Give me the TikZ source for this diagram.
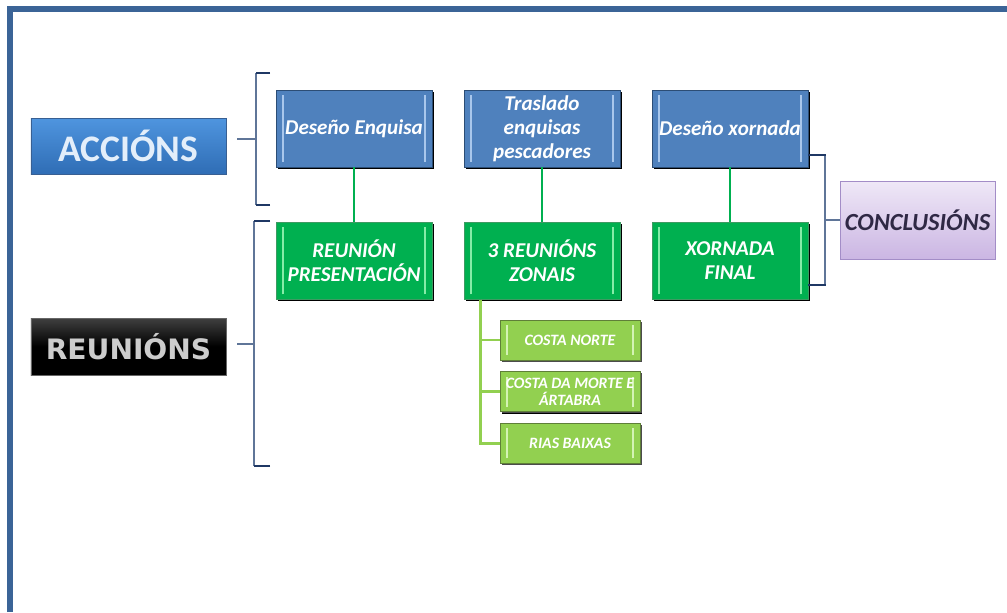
\documentclass[tikz,border=0pt]{standalone}
\usepackage{fontspec}
\setmainfont{Carlito}
\newfontfamily\reufont{DejaVu Sans}
\usetikzlibrary{positioning,shadows}

\definecolor{framebl}{HTML}{3B6497}
\definecolor{actfill}{HTML}{4F81BD}
\definecolor{actline}{HTML}{2C4D75}
\definecolor{actbevel}{HTML}{A9C7EC}
\definecolor{reufill}{HTML}{00B050}
\definecolor{reuline}{HTML}{3E9A62}
\definecolor{reubevel}{HTML}{86ECA8}
\definecolor{subfill}{HTML}{92D050}
\definecolor{subline}{HTML}{5F7F38}
\definecolor{subbevel}{HTML}{D4F3B4}
\definecolor{brknavy}{HTML}{1F3864}
\definecolor{brkgray}{HTML}{5F7598}
\definecolor{conctop}{HTML}{EFE8F7}
\definecolor{concbot}{HTML}{CBB6E3}
\definecolor{concline}{HTML}{A38DC7}
\definecolor{conctext}{HTML}{2F2845}
\definecolor{acctop}{HTML}{4F95DF}
\definecolor{accbot}{HTML}{2F6DB5}
\definecolor{accline}{HTML}{385F92}
\definecolor{acctext}{HTML}{E3EEFA}

\tikzset{bevel/.style={path picture={
  \draw[#1,line width=1.6pt] ([xshift=0.2cm,yshift=0.15cm]path picture bounding box.south west)
       -- ([xshift=0.2cm,yshift=-0.15cm]path picture bounding box.north west);
  \draw[#1,line width=1.6pt] ([xshift=-0.2cm,yshift=0.15cm]path picture bounding box.south east)
       -- ([xshift=-0.2cm,yshift=-0.15cm]path picture bounding box.north east);}}}

\begin{document}
\begin{tikzpicture}[x=0.03cm,y=-0.03cm,node distance=5.64cm,semithick]
  \tikzstyle{box}=[rectangle,minimum width=4.68cm,minimum height=2.31cm,align=center,
                   text=white,font=\bfseries\itshape\fontsize{18}{20.5}\selectfont,
                   drop shadow={shadow xshift=0.06cm,shadow yshift=-0.06cm,fill=black,opacity=1}]
  \tikzstyle{act}=[box,fill=actfill,draw=actline,bevel=actbevel]
  \tikzstyle{reu}=[box,fill=reufill,draw=reuline,bevel=reubevel]
  \tikzstyle{zone}=[box,minimum width=4.2cm,minimum height=1.2cm,fill=subfill,draw=subline,
                    bevel=subbevel,font=\bfseries\itshape\fontsize{13.5}{14.5}\selectfont,
                    drop shadow={shadow xshift=0.05cm,shadow yshift=-0.05cm,fill=black!70,opacity=1}]
  \tikzstyle{glink}=[draw=reufill,line width=2.2pt]
  \tikzstyle{lglink}=[draw=subfill,line width=2.2pt]
  \tikzstyle{tick}=[draw=brknavy,line width=2pt]
  \tikzstyle{spine}=[draw=brkgray,line width=1.4pt]

  \useasboundingbox (0,0) rectangle (1007,612);
  \draw[framebl,line width=0.18cm] (10,612) -- (10,9) -- (1007,9);

  % left headers
  \node[rectangle,minimum width=5.85cm,minimum height=1.68cm,draw=accline,
        top color=acctop,bottom color=accbot,text=acctext,
        font=\bfseries\fontsize{32}{36}\selectfont] (accions) at (128.5,146) {ACCIÓNS};
  \node[rectangle,minimum width=5.85cm,minimum height=1.71cm,draw=black!60,
        top color=black!75,bottom color=black,middle color=black,text=black!20,
        font=\reufont\bfseries\fontsize{24}{28}\selectfont] (reunions) at (128.5,346.5) {REUNIÓNS};

  % actions and meetings
  \node[act] (denq) at (354,128.5) {Deseño Enquisa};
  \node[act] (tras) [right of=denq] {Traslado\\enquisas\\pescadores};
  \node[act] (dxor) [right of=tras] {Deseño xornada};

  \node[reu] (rpres) [below of=denq,node distance=3.97cm] {REUNIÓN\\PRESENTACIÓN};
  \node[reu] (rzon) [below of=tras,node distance=3.97cm] {3 REUNIÓNS\\ZONAIS};
  \node[reu] (xfin) [below of=dxor,node distance=3.97cm] {XORNADA\\FINAL};

  \node[zone] (cnorte) at (570,340) {COSTA NORTE};
  \node[zone] (cmorte) [below of=cnorte,node distance=1.55cm] {COSTA DA MORTE E\\ÁRTABRA};
  \node[zone] (rbaix) [below of=cmorte,node distance=1.55cm] {RIAS BAIXAS};

  \node[rectangle,minimum width=4.65cm,minimum height=2.34cm,draw=concline,
        top color=conctop,bottom color=concbot,text=conctext,
        font=\bfseries\itshape\fontsize{21}{24}\selectfont] (concl) at (917.5,220) {CONCLUSIÓNS};

  % links
  \draw[glink] (denq) -- (rpres);
  \draw[glink] (tras) -- (rzon);
  \draw[glink] (dxor) -- (xfin);

  \coordinate (trunk) at ([xshift=0.51cm]rzon.south west);
  \draw[lglink] (trunk) |- (cnorte.west);
  \draw[lglink] (trunk) |- (cmorte.west);
  \draw[lglink] (trunk) |- (rbaix.west);

  % brackets
  \coordinate (accA) at (237,139);
  \coordinate (accB) at (256,139);
  \draw[spine] (256,73) -- (256,205);
  \draw[tick] (270,73) -- (255.5,73);
  \draw[tick] (270,205) -- (255.5,205);
  \draw[spine] (accA) -- (accB);

  \coordinate (reuA) at (237,344);
  \coordinate (reuB) at (254,344);
  \draw[spine] (254,221) -- (254,466);
  \draw[tick] (270,221) -- (253.5,221);
  \draw[tick] (270,466) -- (253.5,466);
  \draw[spine] (reuA) -- (reuB);

  \coordinate (cTop) at (825,155);
  \coordinate (cBot) at (825,285);
  \draw[spine] (cTop) -- (cBot);
  \draw[tick] (dxor.east |- cTop) -- ([xshift=0.02cm]cTop);
  \draw[tick] (xfin.east |- cBot) -- ([xshift=0.02cm]cBot);
  \draw[spine] (cTop |- concl.west) -- (concl.west);
\end{tikzpicture}
\end{document}
